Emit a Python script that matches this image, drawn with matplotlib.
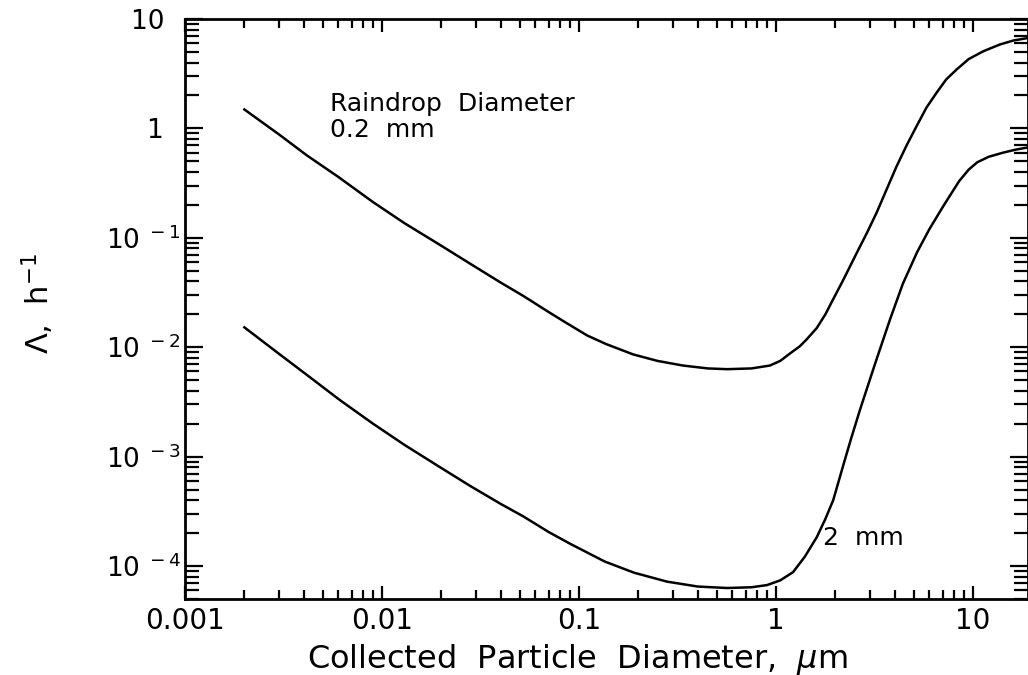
import matplotlib
matplotlib.use("Agg")
import matplotlib.pyplot as plt
from matplotlib.ticker import LogLocator, NullFormatter

# raindrop 0.2 mm
d_small = [0.002, 0.003, 0.00415, 0.006, 0.009, 0.013, 0.0197, 0.028, 0.04,
           0.052, 0.07, 0.087, 0.11, 0.137, 0.188, 0.25, 0.337, 0.45, 0.564,
           0.75, 0.93, 1.05, 1.18, 1.32, 1.43, 1.61, 1.78, 1.95, 2.19, 2.57,
           2.9, 3.24, 3.65, 4.09, 4.6, 5.17, 5.8, 6.53, 7.3, 8.26, 9.5, 11.3,
           13.7, 16.0, 19.0]
lam_small = [1.49, 0.88, 0.567, 0.36, 0.212, 0.136, 0.086, 0.058, 0.039,
             0.0295, 0.021, 0.0165, 0.0128, 0.0107, 0.0086, 0.0075, 0.0068,
             0.0064, 0.0063, 0.0064, 0.0068, 0.0075, 0.0088, 0.0102, 0.0118,
             0.015, 0.020, 0.0275, 0.041, 0.073, 0.112, 0.17, 0.28, 0.45, 0.70,
             1.05, 1.55, 2.12, 2.8, 3.46, 4.3, 5.08, 5.85, 6.35, 6.7]

# raindrop 2 mm
d_big = [0.002, 0.003, 0.0042, 0.00612, 0.009, 0.013, 0.0197, 0.028, 0.04,
         0.052, 0.07, 0.09, 0.135, 0.19, 0.28, 0.4, 0.564, 0.75, 0.90, 1.05,
         1.22, 1.4, 1.61, 1.78, 1.95, 2.2, 2.4, 2.67, 3.2, 3.79, 4.4, 5.2, 6.0,
         7.05, 8.5, 9.5, 10.5, 12.0, 14.2, 16.5, 19.0]
lam_big = [0.0152, 0.0087, 0.0055, 0.00328, 0.0020, 0.00128, 8.0e-4, 5.4e-4,
           3.7e-4, 2.85e-4, 2.05e-4, 1.6e-4, 1.1e-4, 8.7e-5, 7.2e-5, 6.5e-5,
           6.3e-5, 6.4e-5, 6.7e-5, 7.4e-5, 8.8e-5, 1.22e-4, 1.84e-4, 2.7e-4,
           4.0e-4, 8.5e-4, 1.45e-3, 2.7e-3, 7.3e-3, 0.018, 0.038, 0.074, 0.12,
           0.194, 0.33, 0.42, 0.49, 0.55, 0.60, 0.64, 0.67]

xticks = [0.001, 0.01, 0.1, 1, 10]
xticklabels = ["0.001", "0.01", "0.1", "1", "10"]
yticks = [1e-4, 1e-3, 1e-2, 1e-1, 1, 10]
yticklabels = [r"$\mathregular{10^{\ -4}}$", r"$\mathregular{10^{\ -3}}$",
               r"$\mathregular{10^{\ -2}}$", r"$\mathregular{10^{\ -1}}$",
               "1  ", "10  "]

fig = plt.figure(figsize=(10.28, 6.75), dpi=100)
ax = fig.add_axes([0.18, 0.1126, 0.82, 0.8593])

ax.plot(d_small, lam_small, "k-", lw=1.8, solid_joinstyle="round")
ax.plot(d_big, lam_big, "k-", lw=1.8, solid_joinstyle="round")

ax.set_xscale("log")
ax.set_yscale("log")
ax.set_xlim(0.001, 19)
ax.set_ylim(5e-5, 10)

ax.set_xticks(xticks, xticklabels)
ax.set_yticks(yticks, yticklabels)
ax.xaxis.set_minor_locator(LogLocator(base=10, subs=range(2, 10), numticks=20))
ax.yaxis.set_minor_locator(LogLocator(base=10, subs=range(2, 10), numticks=20))
ax.xaxis.set_minor_formatter(NullFormatter())
ax.yaxis.set_minor_formatter(NullFormatter())

for s in ax.spines.values():
    s.set_linewidth(2)
ax.tick_params(which="both", direction="in", top=True, right=True, width=1.6)
ax.tick_params(axis="x", labelsize=20)
ax.tick_params(axis="y", labelsize=19)
ax.tick_params(axis="y", which="major", length=13, pad=3)
ax.tick_params(axis="y", which="minor", length=10)
ax.tick_params(axis="x", which="major", length=9.5, pad=6)
ax.tick_params(axis="x", which="minor", length=6.5)

ax.text(0.00545, 2.13, "Raindrop  Diameter\n0.2  mm", fontsize=18,
        ha="left", va="top", linespacing=1.1)
ax.text(1.73, 1.55e-4, "2  mm", fontsize=18, ha="left", va="baseline")

fig.text(577/1028, 0.0104, r"Collected  Particle  Diameter,  $\mu$m",
         fontsize=23, ha="center", va="baseline")
fig.text(38/1028, 0.551, r"Λ,  h$^{-1}$", fontsize=22, rotation=90,
         ha="center", va="center")

fig.savefig("out.png", dpi=100)
